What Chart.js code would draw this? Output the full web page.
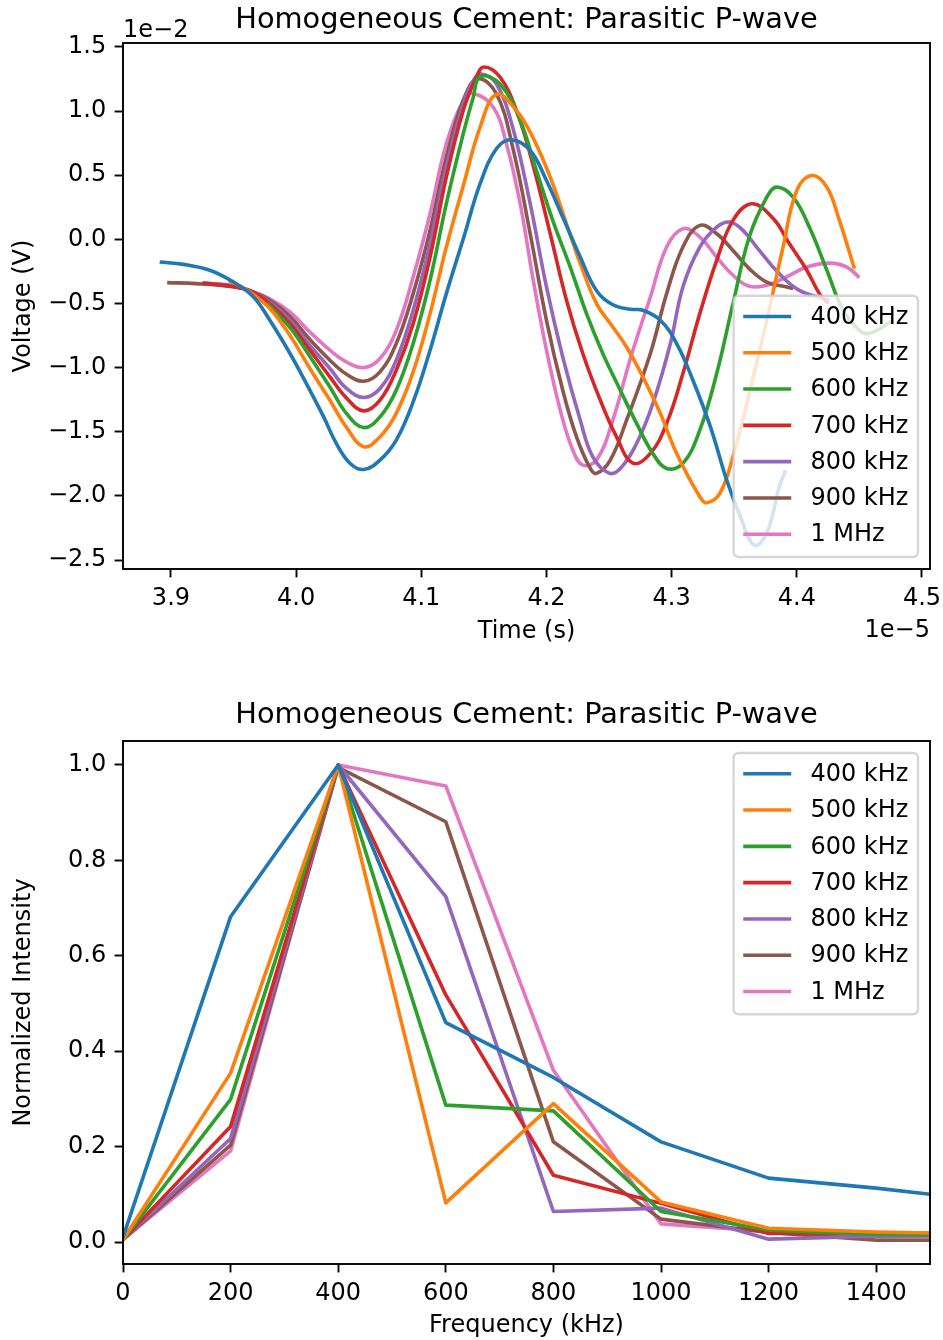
<!DOCTYPE html>
<html lang="en">
<head>
<meta charset="UTF-8">
<title>Homogeneous Cement: Parasitic P-wave</title>
<script src="https://cdn.jsdelivr.net/npm/chart.js@4"></script>
<style>
  html, body { margin: 0; padding: 0; background: #fff; overflow: hidden; }
  canvas { display: block; }
</style>
</head>
<body>
<canvas id="waveChart" width="943" height="660"></canvas>
<canvas id="spectrumChart" width="943" height="680"></canvas>

<script>
// ---- data: time traces (time in 1e-5 s, voltage in 1e-2 V) ----
const seriesLabels = ['400 kHz', '500 kHz', '600 kHz', '700 kHz', '800 kHz', '900 kHz', '1 MHz'];
const seriesColors = ['#1f77b4', '#ff7f0e', '#2ca02c', '#d62728', '#9467bd', '#8c564b', '#e377c2'];

const t400 = [3.891, 3.910, 3.931, 3.950, 3.966, 3.979, 3.995, 4.008, 4.022, 4.032, 4.043, 4.054, 4.067, 4.080, 4.094, 4.107, 4.120, 4.134, 4.147, 4.160, 4.172, 4.187, 4.200, 4.213, 4.227, 4.240, 4.253, 4.267, 4.277, 4.291, 4.304, 4.317, 4.331, 4.344, 4.355, 4.366, 4.376, 4.386, 4.391];
const v400 = [-0.177, -0.195, -0.241, -0.333, -0.449, -0.631, -0.888, -1.121, -1.384, -1.589, -1.745, -1.794, -1.721, -1.565, -1.254, -0.864, -0.423, 0.018, 0.434, 0.706, 0.776, 0.693, 0.459, 0.174, -0.138, -0.40, -0.51, -0.545, -0.553, -0.631, -0.812, -1.098, -1.462, -1.877, -2.163, -2.384, -2.29, -1.929, -1.80];

const t500 = [3.946, 3.963, 3.979, 3.995, 4.011, 4.027, 4.040, 4.054, 4.067, 4.080, 4.094, 4.107, 4.120, 4.134, 4.147, 4.160, 4.176, 4.189, 4.203, 4.216, 4.227, 4.240, 4.253, 4.264, 4.277, 4.291, 4.304, 4.3225, 4.328, 4.3385, 4.349, 4.362, 4.376, 4.389, 4.400, 4.412, 4.424, 4.434, 4.446];
const v500 = [-0.32, -0.41, -0.539, -0.748, -1.007, -1.254, -1.462, -1.617, -1.540, -1.357, -1.020, -0.579, -0.060, 0.434, 0.875, 1.13, 1.005, 0.797, 0.485, 0.122, -0.189, -0.501, -0.683, -0.839, -1.072, -1.357, -1.669, -2.007, -2.054, -1.981, -1.695, -1.202, -0.631, -0.060, 0.382, 0.498, 0.407, 0.148, -0.228];

const t600 = [3.977, 3.995, 4.011, 4.027, 4.040, 4.054, 4.067, 4.080, 4.0935, 4.107, 4.120, 4.1335, 4.1415, 4.147, 4.163, 4.179, 4.192, 4.205, 4.219, 4.232, 4.245, 4.259, 4.272, 4.285, 4.296, 4.309, 4.3225, 4.336, 4.349, 4.362, 4.376, 4.384, 4.397, 4.410, 4.424, 4.437, 4.450, 4.458, 4.477];
const v600 = [-0.50, -0.687, -0.913, -1.151, -1.355, -1.467, -1.384, -1.176, -0.812, -0.319, 0.278, 0.823, 1.108, 1.27, 1.21, 0.927, 0.537, 0.148, -0.216, -0.579, -0.890, -1.176, -1.435, -1.669, -1.786, -1.747, -1.488, -1.046, -0.501, 0.018, 0.329, 0.407, 0.329, 0.096, -0.241, -0.553, -0.709, -0.734, -0.631];

const t700 = [3.925, 3.950, 3.963, 3.979, 3.995, 4.011, 4.027, 4.040, 4.054, 4.067, 4.080, 4.0935, 4.107, 4.120, 4.1335, 4.144, 4.150, 4.163, 4.176, 4.189, 4.203, 4.216, 4.229, 4.243, 4.256, 4.269, 4.283, 4.296, 4.309, 4.3225, 4.336, 4.349, 4.364, 4.381, 4.394, 4.408, 4.418, 4.425];
const v700 = [-0.34, -0.37, -0.40, -0.503, -0.656, -0.864, -1.072, -1.235, -1.337, -1.254, -1.020, -0.657, -0.138, 0.485, 1.005, 1.264, 1.344, 1.264, 1.005, 0.590, 0.044, -0.475, -0.890, -1.254, -1.540, -1.745, -1.669, -1.435, -1.046, -0.579, -0.164, 0.148, 0.278, 0.164, -0.033, -0.241, -0.423, -0.501];

const t800 = [3.926, 3.950, 3.963, 3.979, 3.995, 4.011, 4.027, 4.040, 4.054, 4.067, 4.080, 4.0935, 4.107, 4.120, 4.1335, 4.1415, 4.148, 4.160, 4.173, 4.187, 4.200, 4.213, 4.227, 4.237, 4.250, 4.259, 4.272, 4.285, 4.299, 4.309, 4.3225, 4.336, 4.3465, 4.357, 4.370, 4.386, 4.402, 4.426];
const v800 = [-0.34, -0.36, -0.40, -0.490, -0.631, -0.826, -1.007, -1.160, -1.233, -1.163, -0.942, -0.553, -0.033, 0.563, 1.057, 1.238, 1.29, 1.213, 0.875, 0.278, -0.371, -0.917, -1.410, -1.695, -1.822, -1.786, -1.591, -1.280, -0.812, -0.371, -0.060, 0.096, 0.135, 0.070, -0.086, -0.267, -0.397, -0.475];

const t900 = [3.897, 3.920, 3.950, 3.963, 3.979, 3.995, 4.011, 4.027, 4.040, 4.054, 4.067, 4.080, 4.0935, 4.107, 4.120, 4.1335, 4.145, 4.160, 4.173, 4.187, 4.200, 4.213, 4.224, 4.235, 4.240, 4.251, 4.264, 4.283, 4.296, 4.309, 4.3225, 4.336, 4.349, 4.362, 4.376, 4.392, 4.397];
const v900 = [-0.337, -0.345, -0.37, -0.40, -0.475, -0.600, -0.781, -0.942, -1.050, -1.106, -1.033, -0.812, -0.423, 0.070, 0.641, 1.083, 1.252, 1.135, 0.719, 0.044, -0.631, -1.176, -1.540, -1.786, -1.825, -1.721, -1.410, -0.890, -0.423, -0.060, 0.109, 0.044, -0.086, -0.228, -0.333, -0.371, -0.384];

const t1000 = [3.950, 3.963, 3.979, 3.995, 4.011, 4.027, 4.040, 4.054, 4.067, 4.080, 4.0935, 4.107, 4.120, 4.1335, 4.141, 4.1575, 4.168, 4.179, 4.189, 4.200, 4.211, 4.221, 4.229, 4.240, 4.253, 4.267, 4.283, 4.296, 4.309, 4.3225, 4.336, 4.349, 4.362, 4.376, 4.389, 4.408, 4.426, 4.440, 4.450];
const v1000 = [-0.36, -0.40, -0.463, -0.566, -0.722, -0.864, -0.955, -1.0, -0.929, -0.709, -0.294, 0.200, 0.745, 1.083, 1.14, 1.030, 0.745, 0.278, -0.294, -0.864, -1.332, -1.643, -1.760, -1.721, -1.410, -0.930, -0.449, -0.060, 0.083, 0.018, -0.138, -0.280, -0.366, -0.358, -0.306, -0.216, -0.185, -0.216, -0.298];

const timeTicks = [3.9, 4.0, 4.1, 4.2, 4.3, 4.4, 4.5];
const voltTicks = [-2.5, -2.0, -1.5, -1.0, -0.5, 0.0, 0.5, 1.0, 1.5];

// ---- data: spectra (frequency in kHz, normalized intensity) ----
const freqKHz = [0, 200, 400, 600, 800, 1000, 1200, 1400, 1500];
const amp400 = [0.010, 0.682, 1.000, 0.460, 0.345, 0.210, 0.134, 0.113, 0.100];
const amp500 = [0.005, 0.354, 1.000, 0.082, 0.290, 0.084, 0.029, 0.021, 0.019];
const amp600 = [0.005, 0.299, 1.000, 0.287, 0.275, 0.064, 0.025, 0.016, 0.015];
const amp700 = [0.005, 0.242, 1.000, 0.518, 0.140, 0.081, 0.018, 0.018, 0.018];
const amp800 = [0.005, 0.217, 1.000, 0.724, 0.064, 0.071, 0.006, 0.012, 0.013];
const amp900 = [0.005, 0.203, 0.995, 0.881, 0.210, 0.048, 0.020, 0.004, 0.004];
const amp1000 = [0.005, 0.191, 1.000, 0.956, 0.360, 0.038, 0.022, 0.012, 0.012];

const freqTicks = [0, 200, 400, 600, 800, 1000, 1200, 1400];
const ampTicks = [0.0, 0.2, 0.4, 0.6, 0.8, 1.0];

const FONT = "'DejaVu Sans', sans-serif";
Chart.defaults.font.family = FONT;
Chart.defaults.font.size = 24;
Chart.defaults.color = '#000';

// matplotlib style minus sign in tick labels
function fmt(v, digits) {
    const s = Math.abs(v).toFixed(digits);
    return v < 0 ? '\u2212' + s : s;
}

// draws the full axes box, offset texts and an in-axes legend
const mplFrame = {
    id: 'mplFrame',
    afterDatasetsDraw(chart, args, opts) {
        const ctx = chart.ctx;
        const a = chart.chartArea;
        ctx.save();
        ctx.strokeStyle = '#000';
        ctx.lineWidth = 1.9;
        ctx.strokeRect(a.left, a.top, a.right - a.left, a.bottom - a.top);

        ctx.fillStyle = '#000';
        ctx.font = '24px ' + FONT;
        ctx.textBaseline = 'alphabetic';
        if (opts.yOffsetText) {
            ctx.textAlign = 'left';
            ctx.fillText(opts.yOffsetText, a.left, a.top - 6);
        }
        if (opts.xOffsetText) {
            ctx.textAlign = 'right';
            ctx.fillText(opts.xOffsetText, a.right, a.bottom + 68);
        }

        // legend box
        const sets = chart.data.datasets;
        const pad = 9.6, handleLen = 48, textPad = 19.2, rowH = 24.3, rowGap = 12;
        const textW = Math.max(...sets.map(d => ctx.measureText(d.label).width));
        const w = pad * 2 + handleLen + textPad + textW;
        const h = pad * 2 + sets.length * rowH + (sets.length - 1) * rowGap;
        const x = a.right - 12 - w;
        const y = opts.legendCorner === 'upper right' ? a.top + 12 : a.bottom - 12 - h;
        const r = 5;
        ctx.beginPath();
        ctx.moveTo(x + r, y);
        ctx.arcTo(x + w, y, x + w, y + h, r);
        ctx.arcTo(x + w, y + h, x, y + h, r);
        ctx.arcTo(x, y + h, x, y, r);
        ctx.arcTo(x, y, x + w, y, r);
        ctx.closePath();
        ctx.globalAlpha = 0.8;
        ctx.fillStyle = '#fff';
        ctx.fill();
        ctx.strokeStyle = '#cccccc';
        ctx.lineWidth = 2.4;
        ctx.stroke();
        ctx.globalAlpha = 1;

        sets.forEach((d, i) => {
            const cy = y + pad + rowH / 2 + i * (rowH + rowGap) - 1;
            ctx.strokeStyle = d.borderColor;
            ctx.lineWidth = 3.6;
            ctx.beginPath();
            ctx.moveTo(x + pad, cy);
            ctx.lineTo(x + pad + handleLen, cy);
            ctx.stroke();
            ctx.fillStyle = '#000';
            ctx.textAlign = 'left';
            ctx.textBaseline = 'middle';
            ctx.fillText(d.label, x + pad + handleLen + textPad, cy + 1);
        });
        ctx.restore();
    }
};

function makeAxis(opts) {
    return {
        type: 'linear',
        min: opts.min,
        max: opts.max,
        afterBuildTicks: s => { s.ticks = opts.ticks.map(v => ({ value: v })); },
        afterFit: s => {
            if (opts.width) s.width = opts.width;
            if (opts.height) s.height = opts.height;
            s.paddingLeft = 0; s.paddingRight = 0; s.paddingTop = 0; s.paddingBottom = 0;
        },
        grid: { drawOnChartArea: false, drawTicks: true, tickLength: 8.4, tickWidth: 1.9, tickColor: '#000' },
        border: { display: false },
        ticks: {
            autoSkip: false, maxRotation: 0, padding: opts.tickPad, color: '#000',
            font: { size: 24 },
            callback: opts.format
        },
        title: { display: true, text: opts.title, color: '#000', font: { size: 24 }, padding: opts.titlePad }
    };
}

// top panel: time traces
const times = [t400, t500, t600, t700, t800, t900, t1000];
const volts = [v400, v500, v600, v700, v800, v900, v1000];

new Chart(document.getElementById('waveChart'), {
    type: 'line',
    data: {
        datasets: seriesLabels.map((label, i) => ({
            label: label,
            data: times[i].map((t, j) => ({ x: t, y: volts[i][j] })),
            borderColor: seriesColors[i],
            borderWidth: 3.6,
            pointRadius: 0,
            fill: false,
            tension: 0.4,
            borderJoinStyle: 'round'
        }))
    },
    options: {
        responsive: false,
        animation: false,
        layout: { padding: { left: 0, right: 13, top: 0, bottom: 0 } },
        plugins: {
            legend: { display: false },
            tooltip: { enabled: false },
            title: {
                display: true, fullSize: false, text: 'Homogeneous Cement: Parasitic P-wave', color: '#000',
                font: { size: 28.8, weight: 'normal' }, padding: { top: 3, bottom: 5.44 }
            },
            mplFrame: { yOffsetText: '1e\u22122', xOffsetText: '1e\u22125', legendCorner: 'lower right' }
        },
        scales: {
            x: makeAxis({ min: 3.8617, max: 4.5064, ticks: timeTicks, height: 91, tickPad: 7,
                title: 'Time (s)', titlePad: { top: 0, bottom: 14 }, format: v => v.toFixed(1) }),
            y: makeAxis({ min: -2.570, max: 1.531, ticks: voltTicks, width: 123, tickPad: 8.4,
                title: 'Voltage (V)', titlePad: { top: 9, bottom: 0 }, format: v => fmt(v, 1) })
        }
    },
    plugins: [mplFrame]
});

// bottom panel: normalized spectra
const amps = [amp400, amp500, amp600, amp700, amp800, amp900, amp1000];

new Chart(document.getElementById('spectrumChart'), {
    type: 'line',
    data: {
        datasets: seriesLabels.map((label, i) => ({
            label: label,
            data: freqKHz.map((f, j) => ({ x: f, y: amps[i][j] })),
            borderColor: seriesColors[i],
            borderWidth: 3.6,
            pointRadius: 0,
            fill: false,
            tension: 0,
            borderJoinStyle: 'round'
        }))
    },
    options: {
        responsive: false,
        animation: false,
        layout: { padding: { left: 0, right: 13, top: 0, bottom: 0 } },
        plugins: {
            legend: { display: false },
            tooltip: { enabled: false },
            title: {
                display: true, fullSize: false, text: 'Homogeneous Cement: Parasitic P-wave', color: '#000',
                font: { size: 28.8, weight: 'normal' }, padding: { top: 38.7, bottom: 7.74 }
            },
            mplFrame: { legendCorner: 'upper right' }
        },
        scales: {
            x: makeAxis({ min: 0, max: 1500, ticks: freqTicks, height: 76, tickPad: 7,
                title: 'Frequency (kHz)', titlePad: { top: 0, bottom: 0 }, format: v => String(v) }),
            y: makeAxis({ min: -0.0461, max: 1.0503, ticks: ampTicks, width: 123, tickPad: 8.4,
                title: 'Normalized Intensity', titlePad: { top: 9, bottom: 0 }, format: v => fmt(v, 1) })
        }
    },
    plugins: [mplFrame]
});
</script>
</body>
</html>
